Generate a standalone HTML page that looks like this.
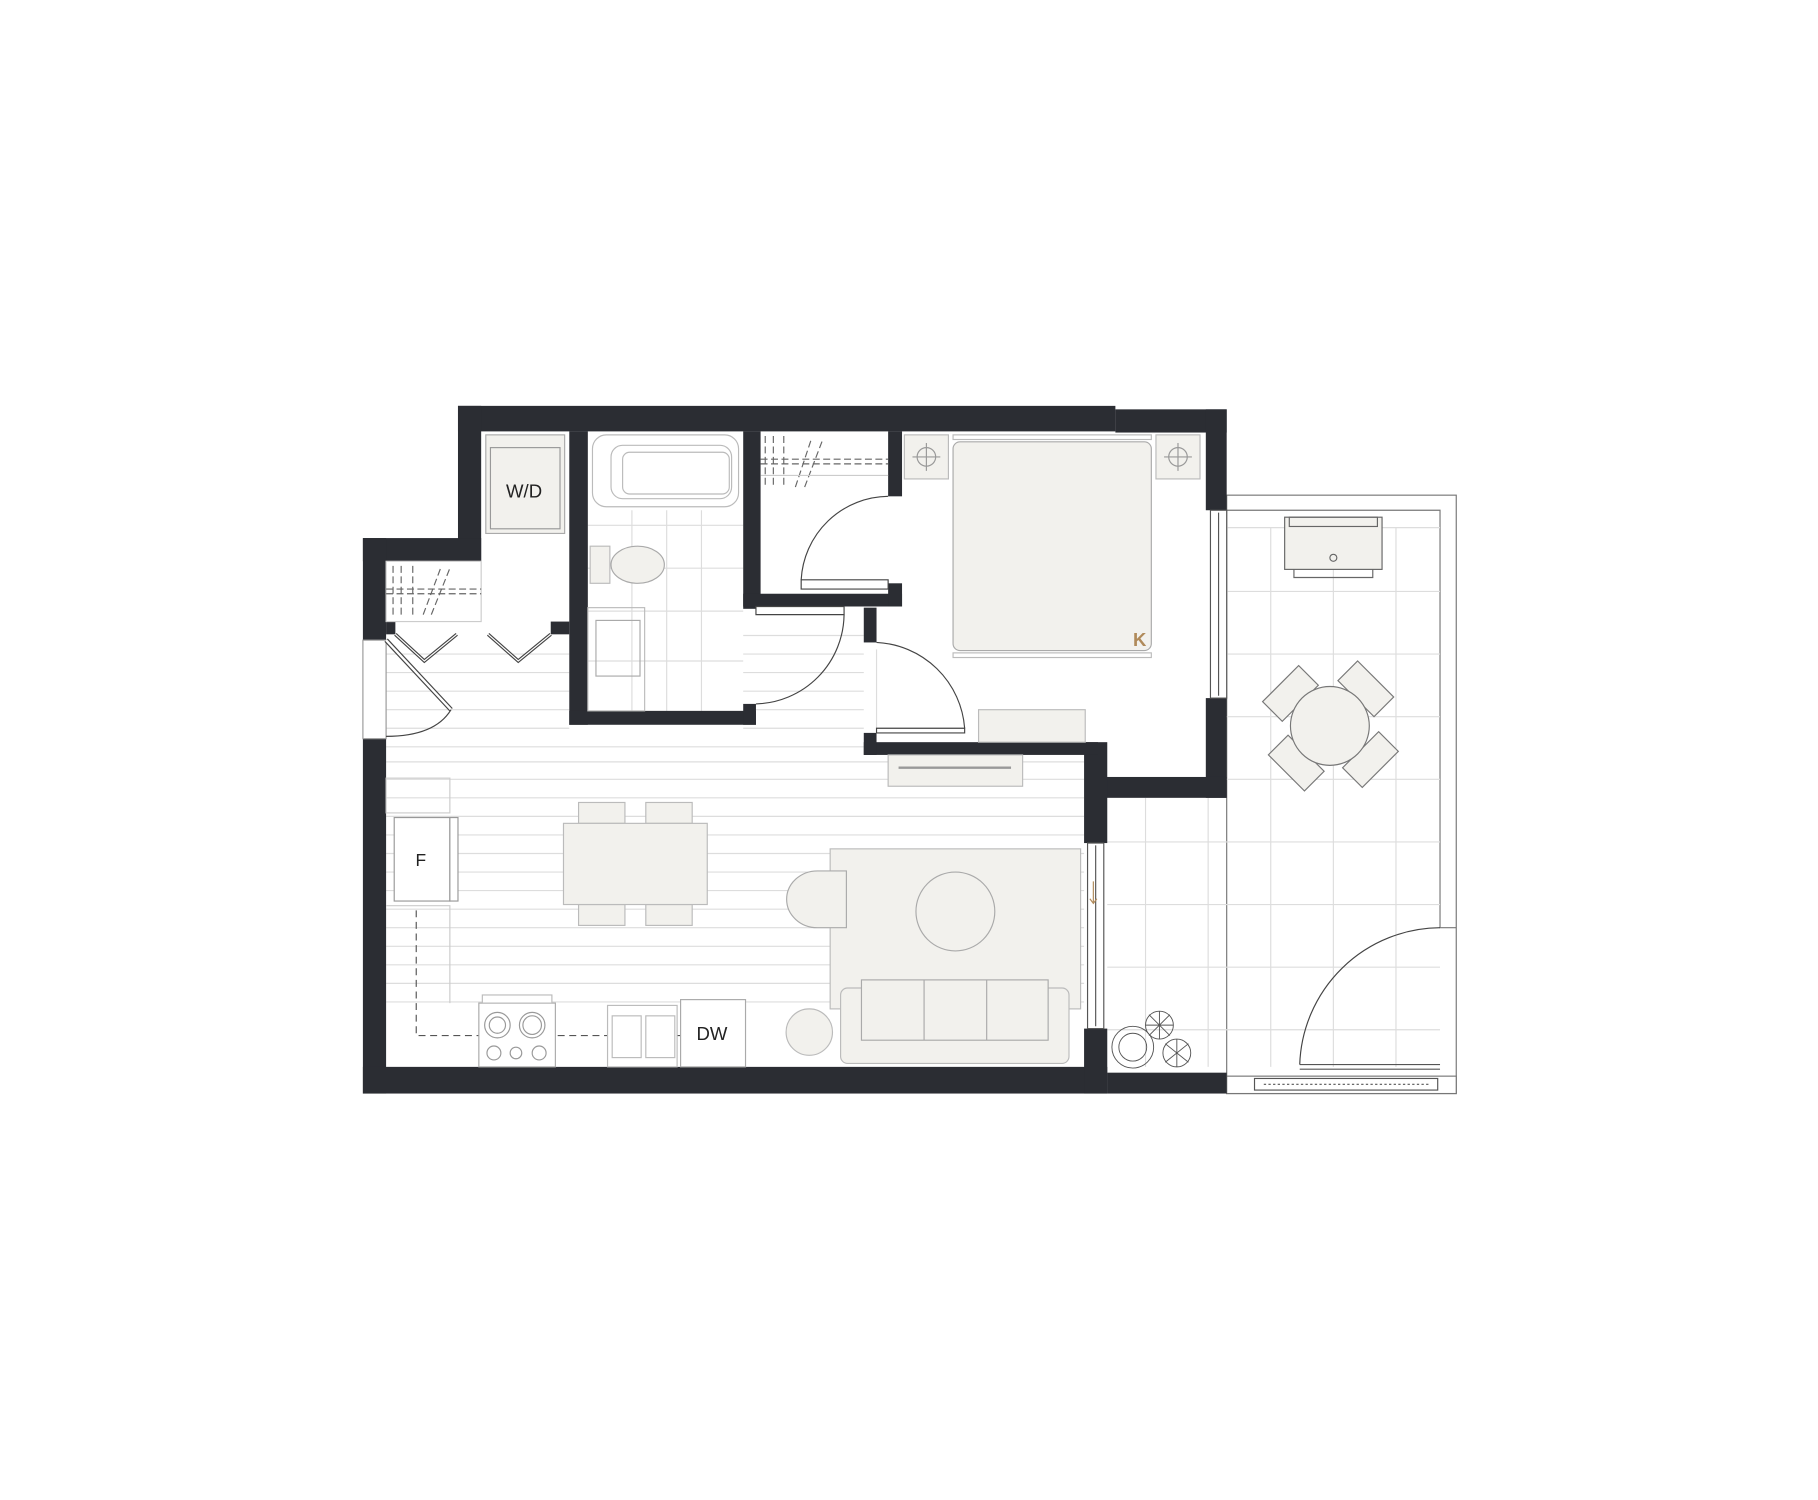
<!DOCTYPE html>
<html><head><meta charset="utf-8"><style>html,body{margin:0;padding:0;background:#fff}svg{display:block}</style></head><body>
<svg width="1818" height="1500" viewBox="0 0 1568 1293.5" preserveAspectRatio="none" xmlns="http://www.w3.org/2000/svg" font-family="Liberation Sans, sans-serif">
<rect width="1568" height="1294" fill="#fff"/>
<g stroke="#ddd" stroke-width="1">
<path d="M333 564H491M333 580H491M333 596H491M333 612H491M333 628H491M333 644H745M333 657H935M333 672H935M333 688H935M333 704H935M333 720H935M333 736H935M333 752H935M333 768H935M333 784H935M333 800H935M333 816H935M333 832H935M333 848H935M333 864H935"/>
<path d="M641 548H745M641 564H745M641 580H745M641 596H745M641 612H745M641 628H745"/>
<path d="M756 560V632"/>
</g>
<g stroke="#ddd" stroke-width="1"><path d="M507 453H641M507 490H641M507 527H641M507 570H641M545 440V613M575 440V613M605 440V613"/></g>
<rect x="1058" y="427" width="198" height="516" fill="none" stroke="#777" stroke-width="1"/>
<path d="M1058 440H1242V800H1256" fill="none" stroke="#777"/>
<g stroke="#ddd"><path d="M988 688V920M1042 688V920M1096 455V920M1150 455V920M1204 455V920M1058 455H1242M1058 510H1242M1058 564H1242M1058 618H1242M1058 672H1242M955 726H1242M955 780H1242M955 834H1242M955 888H1242"/></g>
<rect x="1058" y="928" width="198" height="15" fill="#fff" stroke="#777"/>
<rect x="1082" y="930" width="158" height="10" fill="#fff" stroke="#555"/>
<path d="M1090 935H1232" stroke="#555" stroke-dasharray="2 2"/>
<path d="M1121 918H1242M1121 922H1242" stroke="#555"/>
<path d="M1121 918A122 122 0 0 1 1242 800" fill="none" stroke="#444"/>
<g fill="#2b2d33">
<rect x="395" y="350" width="567" height="22"/>
<rect x="962" y="353" width="96" height="20"/>
<rect x="395" y="350" width="20" height="134"/>
<rect x="313" y="464" width="102" height="20"/>
<rect x="313" y="464" width="20" height="88"/>
<rect x="313" y="637" width="20" height="306"/>
<rect x="313" y="920" width="642" height="23"/>
<rect x="955" y="925" width="103" height="18"/>
<rect x="1040" y="353" width="18" height="87"/>
<rect x="1040" y="602" width="18" height="86"/>
<rect x="947" y="670" width="111" height="18"/>
<rect x="935" y="640" width="20" height="87"/>
<rect x="935" y="887" width="20" height="56"/>
<rect x="745" y="640" width="202" height="11"/>
<rect x="745" y="524" width="11" height="30"/>
<rect x="745" y="632" width="11" height="19"/>
<rect x="491" y="372" width="16" height="253"/>
<rect x="491" y="613" width="161" height="12"/>
<rect x="641" y="372" width="15" height="153"/>
<rect x="641" y="607" width="11" height="18"/>
<rect x="641" y="512" width="137" height="11"/>
<rect x="766" y="372" width="12" height="56"/>
<rect x="766" y="503" width="12" height="20"/>
<rect x="475" y="536" width="16" height="11"/>
<rect x="333" y="536" width="8" height="11"/>
</g>
<g fill="#fff" stroke="#555"><rect x="1044" y="440" width="14" height="162"/><rect x="938" y="727" width="14" height="160"/></g>
<path d="M1051 442V600M945 729V885" stroke="#555"/>
<path d="M943 760V778M940 775L943 779L946 775" stroke="#b08a5a" fill="none"/>
<rect x="313" y="552" width="20" height="85" fill="#fff" stroke="#999"/>
<path d="M333 552L389 612" stroke="#444" stroke-width="4"/><path d="M333 552L389 612" stroke="#fff" stroke-width="2"/>
<path d="M333 635Q375 635 389 612" fill="none" stroke="#444"/>
<path d="M341 547L366 570L394 547M421 547L447 570L475 547" fill="none" stroke="#444" stroke-width="3"/>
<path d="M341 547L366 570L394 547M421 547L447 570L475 547" fill="none" stroke="#fff" stroke-width="1"/>
<rect x="333" y="484" width="82" height="52" fill="none" stroke="#ccc"/>
<path d="M333 508H415M333 512H415" stroke="#666" stroke-dasharray="6 3"/>
<path d="M339 488V532M346 488V532M356 488V532M365 530L380 490M372 530L388 490" stroke="#666" stroke-dasharray="6 3"/>
<rect x="419" y="375" width="68" height="85" fill="#f2f1ed" stroke="#aaa"/>
<rect x="423" y="386" width="60" height="70" fill="#f2f1ed" stroke="#999"/>
<text x="452" y="429" font-size="16" text-anchor="middle" fill="#222">W/D</text>
<rect x="511" y="375" width="126" height="62" rx="12" fill="none" stroke="#bbb"/>
<rect x="527" y="384" width="104" height="46" rx="10" fill="none" stroke="#bbb"/>
<rect x="537" y="390" width="92" height="36" rx="6" fill="none" stroke="#bbb"/>
<rect x="509" y="471" width="17" height="32" fill="#f2f1ed" stroke="#bbb"/>
<ellipse cx="550" cy="487" rx="23" ry="16" fill="#f2f1ed" stroke="#aaa"/>
<rect x="507" y="524" width="49" height="89" fill="none" stroke="#bbb"/>
<rect x="514" y="535" width="38" height="48" fill="none" stroke="#aaa"/>
<path d="M652 523H728V530H652Z" fill="#fff" stroke="#444"/>
<path d="M728 530A78 78 0 0 1 652 607" fill="none" stroke="#444"/>
<path d="M656 396H766M656 400H766" stroke="#666" stroke-dasharray="6 3"/>
<path d="M660 376V420M667 376V420M676 376V420M686 420L700 378M694 420L710 378" stroke="#666" stroke-dasharray="6 3"/>
<path d="M656 410H766" stroke="#ccc"/>
<path d="M691 500H766V508H691Z" fill="#fff" stroke="#444"/>
<path d="M691 500A76 76 0 0 1 766 428" fill="none" stroke="#444"/>
<path d="M756 628H832V632H756Z" fill="#fff" stroke="#444"/>
<path d="M756 554A80 80 0 0 1 832 628" fill="none" stroke="#444"/>
<rect x="780" y="375" width="38" height="38" fill="#f2f1ed" stroke="#bbb"/>
<rect x="997" y="375" width="38" height="38" fill="#f2f1ed" stroke="#bbb"/>
<circle cx="799" cy="394" r="8" fill="none" stroke="#999"/><path d="M787 394H811M799 382V406" stroke="#999"/>
<circle cx="1016" cy="394" r="8" fill="none" stroke="#999"/><path d="M1004 394H1028M1016 382V406" stroke="#999"/>
<rect x="822" y="375" width="171" height="4" fill="none" stroke="#bbb"/>
<rect x="822" y="381" width="171" height="180" rx="6" fill="#f2f1ed" stroke="#aaa"/>
<rect x="822" y="563" width="171" height="4" fill="none" stroke="#bbb"/>
<text x="983" y="557" font-size="16" font-weight="bold" text-anchor="middle" fill="#b08a5a">K</text>
<rect x="844" y="612" width="92" height="28" fill="#f2f1ed" stroke="#bbb"/>
<rect x="766" y="651" width="116" height="27" fill="#f2f1ed" stroke="#bbb"/>
<path d="M775 662H872" stroke="#999" stroke-width="2"/>
<rect x="333" y="671" width="55" height="30" fill="none" stroke="#ccc"/>
<rect x="340" y="705" width="48" height="72" fill="#fff" stroke="#999"/>
<rect x="388" y="705" width="7" height="72" fill="#fff" stroke="#999"/>
<text x="363" y="747" font-size="15" text-anchor="middle" fill="#222">F</text>
<path d="M333 781H388V865" fill="none" stroke="#ccc"/>
<path d="M359 785V893H600" fill="none" stroke="#555" stroke-dasharray="6 4"/>
<rect x="413" y="865" width="66" height="55" fill="#fff" stroke="#aaa"/>
<rect x="416" y="858" width="60" height="7" fill="#fff" stroke="#bbb"/>
<g fill="none" stroke="#999"><circle cx="429" cy="884" r="11"/><circle cx="429" cy="884" r="7"/><circle cx="459" cy="884" r="11"/><circle cx="459" cy="884" r="8"/><circle cx="426" cy="908" r="6"/><circle cx="445" cy="908" r="5"/><circle cx="465" cy="908" r="6"/></g>
<rect x="524" y="867" width="60" height="53" fill="#fff" stroke="#bbb"/>
<rect x="528" y="876" width="25" height="36" fill="none" stroke="#bbb"/><rect x="557" y="876" width="25" height="36" fill="none" stroke="#bbb"/>
<rect x="587" y="862" width="56" height="58" fill="#fff" stroke="#aaa"/>
<text x="614" y="897" font-size="16" text-anchor="middle" fill="#222">DW</text>
<g fill="#f2f1ed" stroke="#bbb">
<rect x="499" y="692" width="40" height="18"/><rect x="557" y="692" width="40" height="18"/>
<rect x="499" y="780" width="40" height="18"/><rect x="557" y="780" width="40" height="18"/>
<rect x="486" y="710" width="124" height="70"/>
</g>
<rect x="716" y="732" width="216" height="138" fill="#f2f1ed" stroke="#bbb"/>
<ellipse cx="824" cy="786" rx="34" ry="34" fill="#f2f1ed" stroke="#aaa"/>
<path d="M730 751H705A26 24 0 0 0 705 800H730Z" fill="#f2f1ed" stroke="#aaa"/>
<rect x="725" y="852" width="197" height="65" rx="6" fill="#f2f1ed" stroke="#bbb"/>
<rect x="743" y="845" width="161" height="52" fill="#f2f1ed" stroke="#aaa"/>
<path d="M797 845V897M851 845V897" stroke="#aaa"/>
<ellipse cx="698" cy="890" rx="20" ry="20" fill="#f2f1ed" stroke="#bbb"/>
<g fill="none" stroke="#555" stroke-width="0.8">
<circle cx="977" cy="903" r="18"/><circle cx="977" cy="903" r="12"/>
<circle cx="1000" cy="884" r="12"/><path d="M988 884H1012M1000 872V896M991 875L1009 893M1009 875L991 893"/>
<circle cx="1015" cy="908" r="12"/><path d="M1005 900L1025 916M1025 900L1005 916M1015 896V920"/>
</g>
<rect x="1108" y="446" width="84" height="45" fill="#f2f1ed" stroke="#666"/>
<rect x="1112" y="446" width="76" height="8" fill="none" stroke="#666"/>
<path d="M1116 491V498H1184V491" fill="none" stroke="#666"/>
<circle cx="1150" cy="481" r="3" fill="none" stroke="#666"/>
<g fill="#f2f1ed" stroke="#777">
<rect x="-22" y="-12" width="44" height="24" transform="translate(1113 598) rotate(-45)"/>
<rect x="-22" y="-12" width="44" height="24" transform="translate(1178 594) rotate(45)"/>
<rect x="-22" y="-12" width="44" height="24" transform="translate(1118 658) rotate(45)"/>
<rect x="-22" y="-12" width="44" height="24" transform="translate(1182 655) rotate(-45)"/>
<circle cx="1147" cy="626" r="34"/>
</g>
</svg>
</body></html>
